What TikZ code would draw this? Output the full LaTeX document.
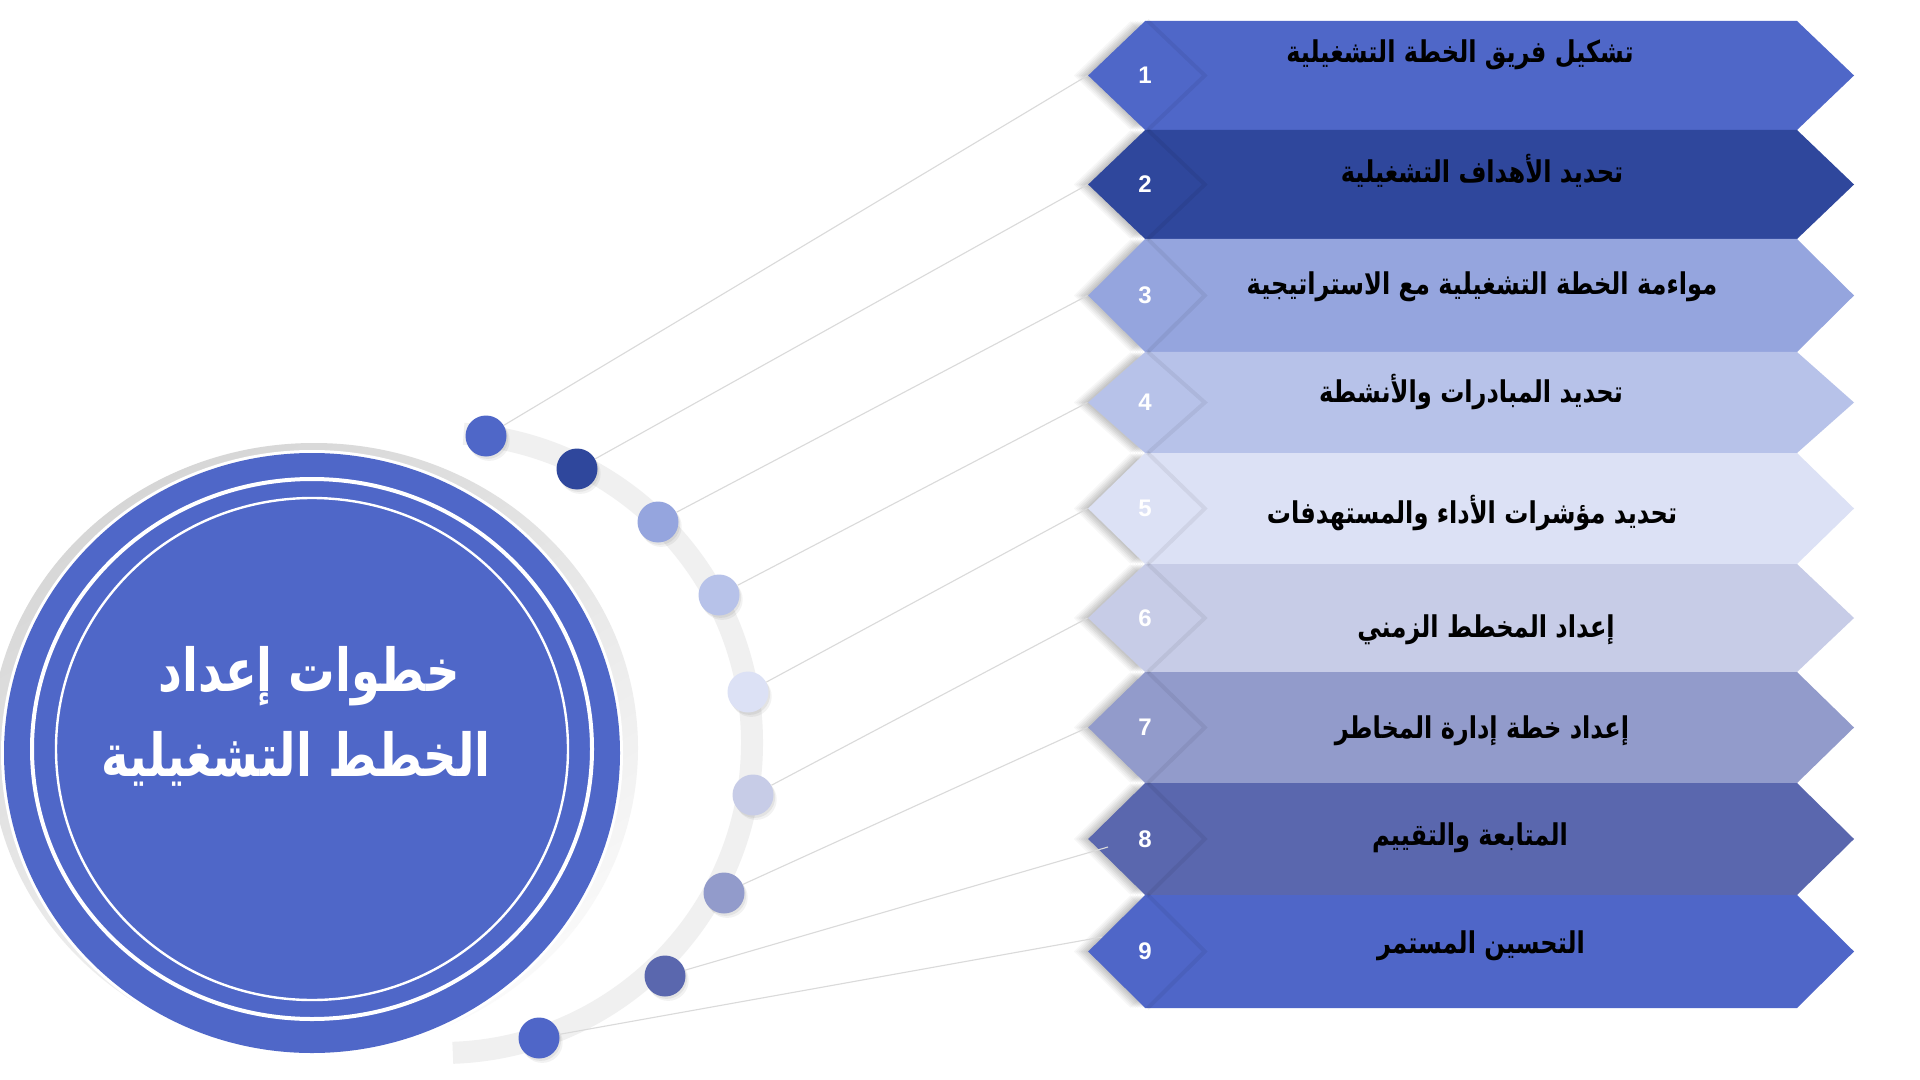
\documentclass[tikz,border=0pt]{standalone}
\usepackage{fontspec}
\usepackage{graphicx}
\usetikzlibrary{shapes.geometric,shadows}
\newfontfamily\arabicfont[Script=Arabic]{DejaVu Sans}
\newfontfamily\numfont{Liberation Sans}
\TeXXeTstate=1
\newcommand{\artext}[1]{\scalebox{0.86}[1.07]{\beginR #1\endR}}
\newcommand{\ttltext}[1]{\scalebox{0.83}[1.06]{\beginR #1\endR}}
\definecolor{c1}{HTML}{4F67C8}
\definecolor{c2}{HTML}{2F479C}
\definecolor{c3}{HTML}{95A5DE}
\definecolor{c4}{HTML}{B7C2E9}
\definecolor{c5}{HTML}{DCE1F5}
\definecolor{c6}{HTML}{C7CCE7}
\definecolor{c7}{HTML}{929BCB}
\definecolor{c8}{HTML}{5A67AE}
\definecolor{c9}{HTML}{4F66C8}
\definecolor{bandgray}{HTML}{F0F0F0}
\definecolor{linegray}{HTML}{DADADA}
\begin{document}
\begin{tikzpicture}[x=0.5pt,y=-0.5pt,
  dshadow/.style={
    general shadow={fill=black,opacity=0.045,shadow xshift=-1.2pt},
    general shadow={fill=black,opacity=0.045,shadow xshift=-2.4pt},
    general shadow={fill=black,opacity=0.045,shadow xshift=-3.6pt},
    general shadow={fill=black,opacity=0.04,shadow xshift=-4.8pt},
    general shadow={fill=black,opacity=0.035,shadow xshift=-6pt},
    general shadow={fill=black,opacity=0.03,shadow xshift=-7.2pt}},
  kite/.style={diamond, inner sep=0pt, minimum width=57pt, text=white,
    font=\numfont\bfseries\fontsize{12}{12}\selectfont, dshadow},
  dotnode/.style={circle, minimum size=20.5pt, inner sep=0pt,
    general shadow={fill=black,opacity=0.06,shadow xshift=0.8pt,shadow yshift=-1.2pt},
    general shadow={fill=black,opacity=0.05,shadow xshift=1.6pt,shadow yshift=-2.2pt}},
  conn/.style={draw=linegray, line width=0.55pt},
  lbl/.style={anchor=base, inner sep=0pt, text=black,
    font=\arabicfont\bfseries\fontsize{14}{14}\selectfont},
  ttl/.style={anchor=base, inner sep=0pt, text=white,
    font=\arabicfont\bfseries\fontsize{28}{28}\selectfont},
  kedge/.style={draw=black, opacity=0.06, line width=2pt}
]
\useasboundingbox (0,0) rectangle (1920,1080);
\fill[white] (0,0) rectangle (1920,1080);

% big circle
\shade[top color=black!16, bottom color=black!2, shading angle=30]
  (314,748) ellipse[x radius=324, y radius=305];
\fill[white] (312,753) ellipse[x radius=311, y radius=303];
\fill[c1] (312,753) ellipse[x radius=308, y radius=300];
\draw[white, line width=2pt] (312,749) ellipse[x radius=280, y radius=270];
\draw[white, line width=1.2pt] (312,749) ellipse[x radius=256, y radius=251];
\node[ttl] (ti1) at (309,691) {\ttltext{خطوات إعداد}};
\node[ttl] (ti2) at (296,776) {\ttltext{الخطط التشغيلية}};

% grey arc band
\draw[bandgray, line width=11pt] (442,743) ++(-86:310) arc[start angle=-86, end angle=88, radius=310];

% boxes
\foreach \i/\t/\b in {1/21/130,2/130/239,3/239/352,4/352/453,5/453/564,6/564/672,7/672/783,8/783/895,9/895/1008}{
  \fill[c\i] (1145,\t) -- (1797,\t) -- (1854,{(\t+\b)/2}) -- (1797,\b) -- (1145,\b) -- cycle;
}
\foreach \i/\t/\b in {1/21/130,2/130/239,3/239/352,4/352/453,5/453/564,6/564/672,7/672/783,8/783/895,9/895/1008}{
  \node[kite, fill=c\i, minimum height={(\b-\t)*0.5pt}] (k\i) at (1145,{(\t+\b)/2}) {\i};
  \draw[kedge] ([xshift=1.2pt]k\i.north) -- ([xshift=1.2pt]k\i.east) -- ([xshift=1.2pt]k\i.south);
}

% labels
\node[lbl] (t1) at (1460,63) {\artext{تشكيل فريق الخطة التشغيلية}};
\node[lbl] (t2) at (1482,183) {\artext{تحديد الأهداف التشغيلية}};
\node[lbl] (t3) at (1482,295) {\artext{مواءمة الخطة التشغيلية مع الاستراتيجية}};
\node[lbl] (t4) at (1471,402) {\artext{تحديد المبادرات والأنشطة}};
\node[lbl] (t5) at (1472,523) {\artext{تحديد مؤشرات الأداء والمستهدفات}};
\node[lbl] (t6) at (1486,637) {\artext{إعداد المخطط الزمني}};
\node[lbl] (t7) at (1482,738) {\artext{إعداد خطة إدارة المخاطر}};
\node[lbl] (t8) at (1470,845) {\artext{المتابعة والتقييم}};
\node[lbl] (t9) at (1481,953) {\artext{التحسين المستمر}};

% dots
\node[dotnode, fill=c1] (d1) at (486,436) {};
\node[dotnode, fill=c2] (d2) at (577,469) {};
\node[dotnode, fill=c3] (d3) at (658,522) {};
\node[dotnode, fill=c4] (d4) at (719,595) {};
\node[dotnode, fill=c5] (d5) at (748,692) {};
\node[dotnode, fill=c6] (d6) at (753,795) {};
\node[dotnode, fill=c7] (d7) at (724,893) {};
\node[dotnode, fill=c8] (d8) at (665,976) {};
\node[dotnode, fill=c9] (d9) at (539,1038) {};

% connectors
\coordinate (e8) at (1108,847);
\coordinate (e9) at (1102,937);
\foreach \i in {1,...,7}{ \draw[conn] (d\i) -- (k\i.west); }
\draw[conn] (d8) -- (e8);
\draw[conn] (d9) -- (e9);
\end{tikzpicture}
\end{document}
